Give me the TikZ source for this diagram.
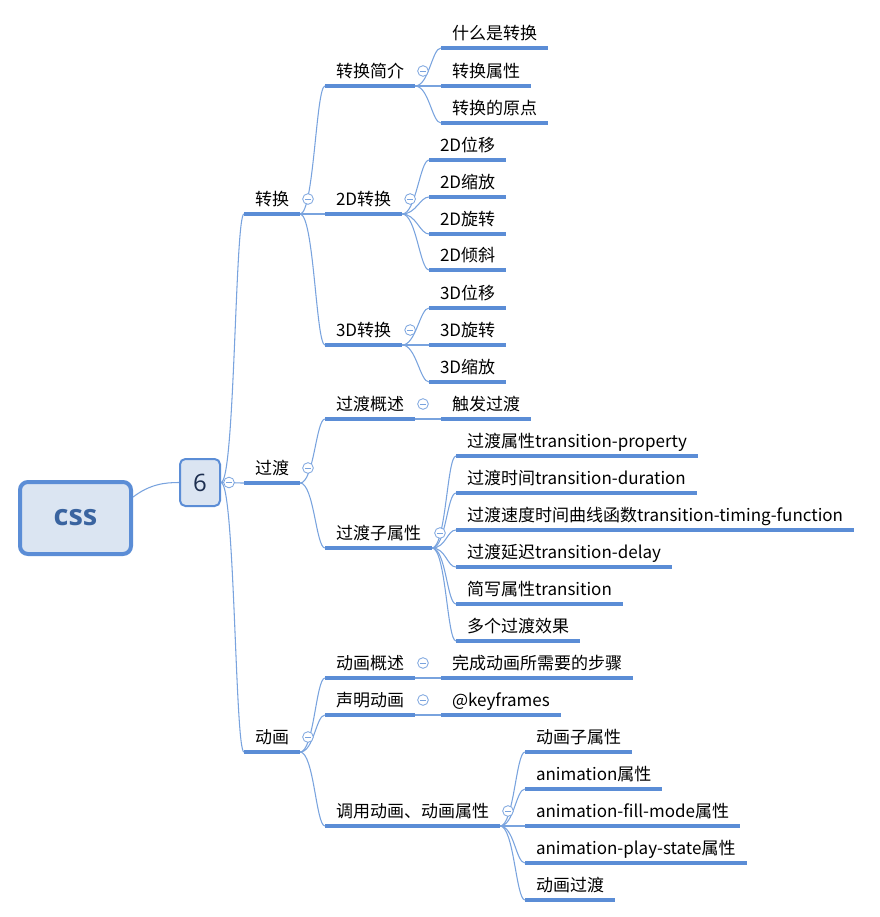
\documentclass[tikz,border=0pt]{standalone}
\usepackage{fontspec}
\setmainfont{Noto Sans CJK SC}
\newfontfamily\titlefont{Open Sans}
\usetikzlibrary{calc}

\definecolor{lineblue}{HTML}{5B8DD6}
\definecolor{linkblue}{HTML}{79A3DE}
\definecolor{rootfill}{HTML}{DBE5F2}
\definecolor{csstext}{HTML}{3A64A0}
\definecolor{sixtext}{HTML}{1C2E4F}

\tikzset{
  topic/.style={anchor=south west, inner xsep=8.25pt, inner ysep=6.4pt, text depth=0pt, outer sep=0pt,
    font=\fontsize{12.75}{15}\selectfont},
  uline/.style={draw=lineblue, line width=2.4pt},
  link/.style={draw=linkblue, line width=0.8pt},
  fold/.style={circle, draw=linkblue, fill=white, line width=0.6pt, minimum size=8pt, inner sep=0pt,
    path picture={\draw[linkblue, line width=0.6pt] ([xshift=-2.2pt]path picture bounding box.center) -- ([xshift=2.2pt]path picture bounding box.center);}},
  rootbox/.style={draw=lineblue, fill=rootfill, line width=3pt, rounded corners=6pt,
    minimum width=83.25pt, minimum height=54pt, text=csstext, font=\titlefont\bfseries\fontsize{21.75}{24}\selectfont},
  centralbox/.style={draw=lineblue, fill=rootfill, line width=1.5pt, rounded corners=4pt,
    minimum width=30pt, minimum height=35.25pt, text=sixtext, font=\titlefont\fontsize{18}{20}\selectfont},
}

\begin{document}
\begin{tikzpicture}[x=0.75pt,y=-0.75pt]
\useasboundingbox (0,0) rectangle (879,917);

% root and central topic
\node[rootbox] (css) at (75.5,518) {css};
\node[centralbox] (six) at (200,482.5) {6};

% main branches
\node[topic] (zh) at (244,214) {转换};
\node[topic] (gd) at (244,483) {过渡};
\node[topic] (dh) at (244,752) {动画};

% second level
\node[topic] (zhjj) at (325,86) {转换简介};
\node[topic] (zh2d) at (325,214) {2D转换};
\node[topic] (zh3d) at (325,345) {3D转换};
\node[topic] (gdgs) at (325,419) {过渡概述};
\node[topic] (gdzsx) at (325,548) {过渡子属性};
\node[topic] (dhgs) at (325,678) {动画概述};
\node[topic] (smdh) at (325,715) {声明动画};
\node[topic] (dysx) at (325,826) {调用动画、动画属性};

% third level
\node[topic] (zhjj1) at (441,48) {什么是转换};
\node[topic] (zhjj2) at (441,86) {转换属性};
\node[topic] (zhjj3) at (441,123) {转换的原点};

\node[topic] (zh2d1) at (429,160) {2D位移};
\node[topic] (zh2d2) at (429,197) {2D缩放};
\node[topic] (zh2d3) at (429,234) {2D旋转};
\node[topic] (zh2d4) at (429,270) {2D倾斜};

\node[topic] (zh3d1) at (429,308) {3D位移};
\node[topic] (zh3d2) at (429,345) {3D旋转};
\node[topic] (zh3d3) at (429,382) {3D缩放};

\node[topic] (gdgs1) at (441,419) {触发过渡};

\node[topic] (gdzsx1) at (456,456) {过渡属性transition-property};
\node[topic] (gdzsx2) at (456,493) {过渡时间transition-duration};
\node[topic] (gdzsx3) at (456,530) {过渡速度时间曲线函数transition-timing-function};
\node[topic] (gdzsx4) at (456,567) {过渡延迟transition-delay};
\node[topic] (gdzsx5) at (456,604) {简写属性transition};
\node[topic] (gdzsx6) at (456,641) {多个过渡效果};

\node[topic] (dhgs1) at (441,678) {完成动画所需要的步骤};
\node[topic] (smdh1) at (441,715) {@keyframes};

\node[topic] (dysx1) at (525,752) {动画子属性};
\node[topic] (dysx2) at (525,789) {animation属性};
\node[topic] (dysx3) at (525,826) {animation-fill-mode属性};
\node[topic] (dysx4) at (525,863) {animation-play-state属性};
\node[topic] (dysx5) at (525,900) {动画过渡};

% connectors
\draw[link] (css.20) .. controls +(17,-13) and +(-14,0) .. (six.west);
\foreach \c in {zh,gd,dh}
  \draw[link] (six.east) .. controls +(14,0) and +(-9,0) .. (\c.south west);
\foreach \p/\c in {zh/zhjj, zh/zh2d, zh/zh3d, gd/gdgs, gd/gdzsx, dh/dhgs, dh/smdh, dh/dysx,
                   zhjj/zhjj1, zhjj/zhjj2, zhjj/zhjj3,
                   zh2d/zh2d1, zh2d/zh2d2, zh2d/zh2d3, zh2d/zh2d4,
                   zh3d/zh3d1, zh3d/zh3d2, zh3d/zh3d3, gdgs/gdgs1,
                   gdzsx/gdzsx1, gdzsx/gdzsx2, gdzsx/gdzsx3, gdzsx/gdzsx4, gdzsx/gdzsx5, gdzsx/gdzsx6,
                   dhgs/dhgs1, smdh/smdh1,
                   dysx/dysx1, dysx/dysx2, dysx/dysx3, dysx/dysx4, dysx/dysx5}
  \draw[link] (\p.south east) .. controls +(14,0) and +(-9,0) .. (\c.south west);

% underlines
\foreach \n in {zh,gd,dh,zhjj,zh2d,zh3d,gdgs,gdzsx,dhgs,smdh,dysx,
                zhjj1,zhjj2,zhjj3,zh2d1,zh2d2,zh2d3,zh2d4,zh3d1,zh3d2,zh3d3,gdgs1,
                gdzsx1,gdzsx2,gdzsx3,gdzsx4,gdzsx5,gdzsx6,dhgs1,smdh1,
                dysx1,dysx2,dysx3,dysx4,dysx5}
  \draw[uline] (\n.south west) -- (\n.south east);

% collapse markers
\node[fold] (f-six) at ([xshift=6]six.east) {};
\foreach \n in {zh,gd,dh,zhjj,zh2d,zh3d,gdgs,gdzsx,dhgs,smdh,dysx}
  \node[fold] (f-\n) at ([shift={(8,-15)}]\n.south east) {};
\end{tikzpicture}
\end{document}
